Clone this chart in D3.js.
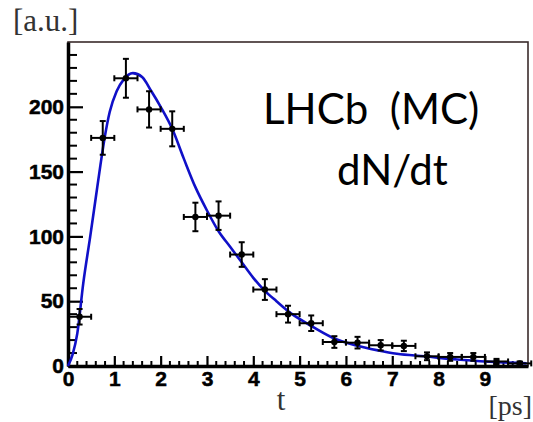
<!DOCTYPE html>
<html><head><meta charset="utf-8">
<script src="https://cdn.jsdelivr.net/npm/d3@7"></script>
<style>html,body{margin:0;padding:0;background:#fff;}svg{display:block;}</style>
</head><body>
<svg id="c" width="533" height="422"></svg>
<script>
// Histogram points (bin centers, contents, vertical errors)
const binCenters = [0.25,0.75,1.25,1.75,2.25,2.75,3.25,3.75,4.25,4.75,5.25,5.75,6.25,6.75,7.25,7.75,8.25,8.75,9.25,9.75];
const binValues  = [38,176,222,198,183,115,116,86,59,40,33,18.5,18,16,15.5,7.5,7,7,3.5,2];
const binErrors  = [6,13,15,14,13.5,11,11,9.5,8,6.5,6,4.5,4.5,4,4,3,3,3,2,1.5];
const binHalfWidth = 0.25;
// Fitted curve
const fitT = [0,0.1,0.2,0.33,0.48,0.6,0.7,0.8,0.9,1.05,1.2,1.4,1.6,1.8,2.0,2.25,2.5,2.75,3.0,3.25,3.5,3.75,4.0,4.25,4.5,4.8,5.2,5.7,6.2,6.7,7.1,7.7,8.4,9.1,9.9];
const fitV = [0,9,25,64,100,130,155,178,196,212,221,226,223,212,200,183,160,138,120,104,92,80,68,58,50,41,32,22,16,12,9.5,7.5,5,3.3,2];
const xTicks = [0,1,2,3,4,5,6,7,8,9];
const yTicks = [0,50,100,150,200];

const svg = d3.select("#c");
const x = d3.scaleLinear().domain([0, 9.93]).range([68, 528]);
const y = d3.scaleLinear().domain([0, 250]).range([366, 42]);

// frame
svg.append("rect").attr("x", x(0)).attr("y", y(250)).attr("width", x(9.93)-x(0)).attr("height", y(0)-y(250))
  .attr("fill","none").attr("stroke","#3a2b2b").attr("stroke-width",1.6);

// minor ticks
const xMinor = d3.range(0, 9.93, 0.2).filter(v => Math.abs(v - Math.round(v)) > 1e-6);
svg.append("g").selectAll("line").data(xMinor).join("line")
  .attr("x1", d=>x(d)).attr("x2", d=>x(d)).attr("y1", y(0)).attr("y2", y(0)-5)
  .attr("stroke","#000").attr("stroke-width",2);
const yMinor = d3.range(0, 251, 10).filter(v => v % 50 !== 0);
svg.append("g").selectAll("line").data(yMinor).join("line")
  .attr("x1", x(0)).attr("x2", x(0)+9).attr("y1", d=>y(d)).attr("y2", d=>y(d))
  .attr("stroke","#000").attr("stroke-width",2);

const tickFont = "Liberation Sans, Arial, sans-serif";
// axes with D3
const xAxis = d3.axisBottom(x).tickValues(xTicks).tickSizeInner(-10).tickSizeOuter(0).tickPadding(5).tickFormat(d3.format("d"));
const gx = svg.append("g").attr("transform",`translate(0,${y(0)})`).call(xAxis);
gx.select(".domain").attr("stroke","#000").attr("stroke-width",3.5);
gx.selectAll(".tick line").attr("stroke","#000").attr("stroke-width",2.2);
gx.selectAll("text").attr("font-family",tickFont).attr("font-weight","bold").attr("font-size",21)
  .attr("fill","#000").attr("stroke","#000").attr("stroke-width",0.5);

const yAxis = d3.axisLeft(y).tickValues(yTicks).tickSizeInner(-15).tickSizeOuter(0).tickPadding(4).tickFormat(d3.format("d"));
const gy = svg.append("g").attr("transform",`translate(${x(0)},0)`).call(yAxis);
gy.select(".domain").attr("stroke","#000").attr("stroke-width",3.5);
gy.selectAll(".tick line").attr("stroke","#000").attr("stroke-width",2.2);
gy.selectAll("text").attr("font-family",tickFont).attr("font-weight","bold").attr("font-size",21)
  .attr("fill","#000").attr("stroke","#000").attr("stroke-width",0.5);

// fit curve
const fitData = fitT.map((t,i)=>({t, v: fitV[i]}));
svg.append("path").datum(fitData)
  .attr("d", d3.line().x(d=>x(d.t)).y(d=>y(d.v)).curve(d3.curveMonotoneX))
  .attr("fill","none").attr("stroke","#1010c8").attr("stroke-width",2.6);

// data points with error bars
const pts = binCenters.map((t,i)=>({t, v: binValues[i], e: binErrors[i]}));
const gp = svg.append("g").attr("stroke","#000").attr("stroke-width",2);
const cap = 3;
pts.forEach(p=>{
  gp.append("line").attr("x1",x(p.t-binHalfWidth)).attr("x2",x(p.t+binHalfWidth)).attr("y1",y(p.v)).attr("y2",y(p.v));
  gp.append("line").attr("x1",x(p.t)).attr("x2",x(p.t)).attr("y1",y(p.v-p.e)).attr("y2",y(p.v+p.e));
  gp.append("line").attr("x1",x(p.t)-cap).attr("x2",x(p.t)+cap).attr("y1",y(p.v+p.e)).attr("y2",y(p.v+p.e));
  gp.append("line").attr("x1",x(p.t)-cap).attr("x2",x(p.t)+cap).attr("y1",y(p.v-p.e)).attr("y2",y(p.v-p.e));
  gp.append("line").attr("x1",x(p.t-binHalfWidth)).attr("x2",x(p.t-binHalfWidth)).attr("y1",y(p.v)-cap).attr("y2",y(p.v)+cap);
  gp.append("line").attr("x1",x(p.t+binHalfWidth)).attr("x2",x(p.t+binHalfWidth)).attr("y1",y(p.v)-cap).attr("y2",y(p.v)+cap);
});
svg.append("g").selectAll("circle").data(pts).join("circle")
  .attr("cx",d=>x(d.t)).attr("cy",d=>y(d.v)).attr("r",3.2).attr("fill","#000");

// titles
const serif = "Liberation Serif, Times New Roman, serif";
svg.append("text").attr("x",13).attr("y",31).attr("font-family",serif)
  .attr("font-size",31).attr("fill","#333").text("[a.u.]");
svg.append("text").attr("x",281).attr("y",410).attr("text-anchor","middle").attr("font-family",serif)
  .attr("font-size",31).attr("fill","#333").text("t");
svg.append("text").attr("x",532).attr("y",415).attr("text-anchor","end").attr("font-family",serif)
  .attr("font-size",28).attr("fill","#333").text("[ps]");

svg.append("text").attr("x",263).attr("y",124).attr("font-family","Lato, Open Sans, sans-serif")
  .attr("font-size",42).attr("fill","#000").attr("xml:space","preserve").text("LHCb  (MC)");
svg.append("text").attr("x",337).attr("y",185).attr("font-family","Lato, Open Sans, sans-serif")
  .attr("font-size",42).attr("fill","#000").text("dN/dt");
</script>
</body></html>
